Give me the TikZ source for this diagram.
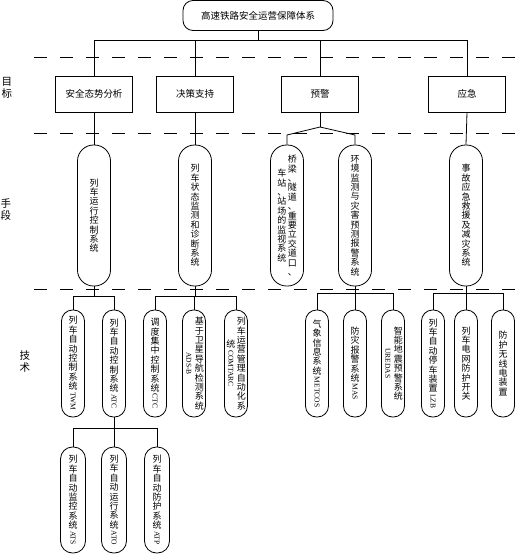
\documentclass[tikz,border=0pt]{standalone}
\usepackage{fontspec}
\usepackage{graphicx}
\newfontfamily\cjk{Noto Sans CJK SC}
\newfontfamily\lat{Liberation Serif}
\newcommand\vfont{\cjk\fontsize{9}{9.4}\selectfont}
\newcommand\vt[1]{\begin{minipage}{10.5pt}\centering\baselineskip=9.4pt\lineskiplimit=-20pt\lineskip=0pt #1\end{minipage}}
\newcommand\rl[1]{\raisebox{7pt}{\rotatebox{-90}{\lat\fontsize{7.5}{7.5}\selectfont #1}}}
\tikzset{
  ln/.style={line width=0.8pt},
  dl/.style={line width=0.8pt, dash pattern=on 13pt off 13pt},
  topbox/.style={draw, ln, rounded corners=10pt, minimum width=150pt, minimum height=30pt, inner sep=0pt, font=\cjk\fontsize{9.5}{11}\selectfont},
  goalbox/.style={draw, ln, minimum width=77pt, minimum height=36pt, inner sep=0pt, font=\cjk\fontsize{9.5}{11}\selectfont},
  meanbox/.style={draw, ln, rounded corners=16pt, minimum width=33pt, minimum height=141pt, inner sep=0pt, font=\vfont},
  techbox/.style={draw, ln, rounded corners=11pt, minimum width=23pt, minimum height=107pt, inner sep=0pt, font=\vfont},
  subbox/.style={draw, ln, rounded corners=12pt, minimum width=25pt, minimum height=106pt, inner sep=0pt, font=\vfont},
  sidelab/.style={font=\cjk\fontsize{10.5}{12}\selectfont, align=center, inner sep=0pt}
}
\begin{document}
\begin{tikzpicture}[x=1pt,y=-1pt]
\useasboundingbox (0,0) rectangle (531,555);

% dashed separators
\draw[dl] (34,57) -- (528,57);
\draw[dl] (34,133) -- (521,133);
\draw[dl] (34,289) -- (528,289);

% side labels
\node[sidelab] (lab1) at (7,88) {目\\标};
\node[sidelab] (lab2) at (6,210) {手\\段};
\node[sidelab] (lab3) at (25,362) {技\\术};

% top
\node[topbox] (top) at (258,15.5) {高速铁路安全运营保障体系};

% goals
\node[goalbox] (g1) at (94,94) {安全态势分析};
\node[goalbox] (g2) at (195,94) {决策支持};
\node[goalbox] (g3) at (320,94) {预警};
\node[goalbox] (g4) at (467,94) {应急};

\coordinate (b0) at (258,40);
\draw[ln] (top.south) -- (b0);
\draw[ln] (g1.north |- b0) -- (g4.north |- b0);
\draw[ln] (g1.north |- b0) -- (g1.north);
\draw[ln] (g2.north |- b0) -- (g2.north);
\draw[ln] (g3.north |- b0) -- (g3.north);
\draw[ln] (g4.north |- b0) -- (g4.north);

% means
\node[meanbox] (m1) at (94,215.5) {\vt{列\\车\\运\\行\\控\\制\\系\\统}};
\node[meanbox] (m2) at (195,215.5) {\vt{列\\车\\状\\态\\监\\测\\和\\诊\\断\\系\\统}};
\node[meanbox] (m3) at (287,215.5) {\vt{车\\站\\、\\站\\场\\的\\监\\视\\系\\统}\vt{桥\\梁\\、\\隧\\道\\、\\重\\要\\立\\交\\道\\口\\、}};
\node[meanbox] (m4) at (355,215.5) {\vt{环\\境\\监\\测\\与\\灾\\害\\预\\测\\报\\警\\系\\统}};
\node[meanbox] (m5) at (466,215.5) {\vt{事\\故\\应\\急\\救\\援\\及\\减\\灾\\系\\统}};

\draw[ln] (g1.south) -- (m1.north);
\draw[ln] (g2.south) -- (m2.north);
\draw[ln] (g4.south) -- (m5.north);
\coordinate (sp) at (320,127);
\coordinate (k3) at (287,135);
\coordinate (k4) at (355,135);
\draw[ln] (g3.south) -- (sp);
\draw[ln] (sp) -- (k3) -- (m3.north);
\draw[ln] (sp) -- (k4) -- (m4.north);

% technologies
\node[techbox] (t1) at (73,363.5) {\vt{列\\车\\自\\动\\控\\制\\系\\统\\\rl{TWM}}};
\node[techbox] (t2) at (114,363.5) {\vt{列\\车\\自\\动\\控\\制\\系\\统\\\rl{ATC}}};
\node[techbox] (t3) at (155,363.5) {\vt{调\\度\\集\\中\\控\\制\\系\\统\\\rl{CTC}}};
\node[techbox] (t4) at (194,363.5) {\vt{\rl{ADS-B}}\vt{基\\于\\卫\\星\\导\\航\\检\\测\\系\\统}};
\node[techbox] (t5) at (236,363.5) {\vt{统\\\rl{COMTARC}}\vt{列\\车\\运\\营\\管\\理\\自\\动\\化\\系}};
\node[techbox] (t6) at (317,363.5) {\vt{气\\象\\信\\息\\系\\统\\\rl{METCOS}}};
\node[techbox] (t7) at (355,363.5) {\vt{防\\灾\\报\\警\\系\\统\\\rl{MAS}}};
\node[techbox] (t8) at (393,363.5) {\vt{\rl{UREDAS}}\vt{智\\能\\地\\震\\预\\警\\系\\统}};
\node[techbox] (t9) at (433,363.5) {\vt{列\\车\\自\\动\\停\\车\\装\\置\\\rl{LZB}}};
\node[techbox] (t10) at (466,363.5) {\vt{列\\车\\电\\网\\防\\护\\开\\关}};
\node[techbox] (t11) at (503,363.5) {\vt{防\\护\\无\\线\\电\\装\\置}};

\coordinate (lb1) at (94,296);
\draw[ln] (m1.south) -- (lb1);
\draw[ln] (t1.north |- lb1) -- (t2.north |- lb1);
\draw[ln] (t1.north |- lb1) -- (t1.north);
\draw[ln] (t2.north |- lb1) -- (t2.north);

\coordinate (lb2) at (195,296);
\draw[ln] (m2.south) -- (lb2);
\draw[ln] (t3.north |- lb2) -- (t5.north |- lb2);
\draw[ln] (t3.north |- lb2) -- (t3.north);
\draw[ln] (t4.north |- lb2) -- (t4.north);
\draw[ln] (t5.north |- lb2) -- (t5.north);

\coordinate (lb3) at (355,293);
\draw[ln] (m4.south) -- (lb3);
\draw[ln] (t6.north |- lb3) -- (t8.north |- lb3);
\draw[ln] (t6.north |- lb3) -- (t6.north);
\draw[ln] (t7.north |- lb3) -- (t7.north);
\draw[ln] (t8.north |- lb3) -- (t8.north);

\coordinate (lb4) at (466,293);
\draw[ln] (m5.south) -- (lb4);
\draw[ln] (t9.north |- lb4) -- (t11.north |- lb4);
\draw[ln] (t9.north |- lb4) -- (t9.north);
\draw[ln] (t10.north |- lb4) -- (t10.north);
\draw[ln] (t11.north |- lb4) -- (t11.north);

% sub-technologies of ATC
\node[subbox] (f1) at (73,500) {\vt{列\\车\\自\\动\\监\\控\\系\\统\\\rl{ATS}}};
\node[subbox] (f2) at (114,500) {\vt{列\\车\\自\\动\\运\\行\\系\\统\\\rl{ATO}}};
\node[subbox] (f3) at (157,500) {\vt{列\\车\\自\\动\\防\\护\\系\\统\\\rl{ATP}}};

\coordinate (lb5) at (114,428);
\draw[ln] (t2.south) -- (lb5);
\draw[ln] (f1.north |- lb5) -- (f3.north |- lb5);
\draw[ln] (f1.north |- lb5) -- (f1.north);
\draw[ln] (f2.north |- lb5) -- (f2.north);
\draw[ln] (f3.north |- lb5) -- (f3.north);
\end{tikzpicture}
\end{document}
